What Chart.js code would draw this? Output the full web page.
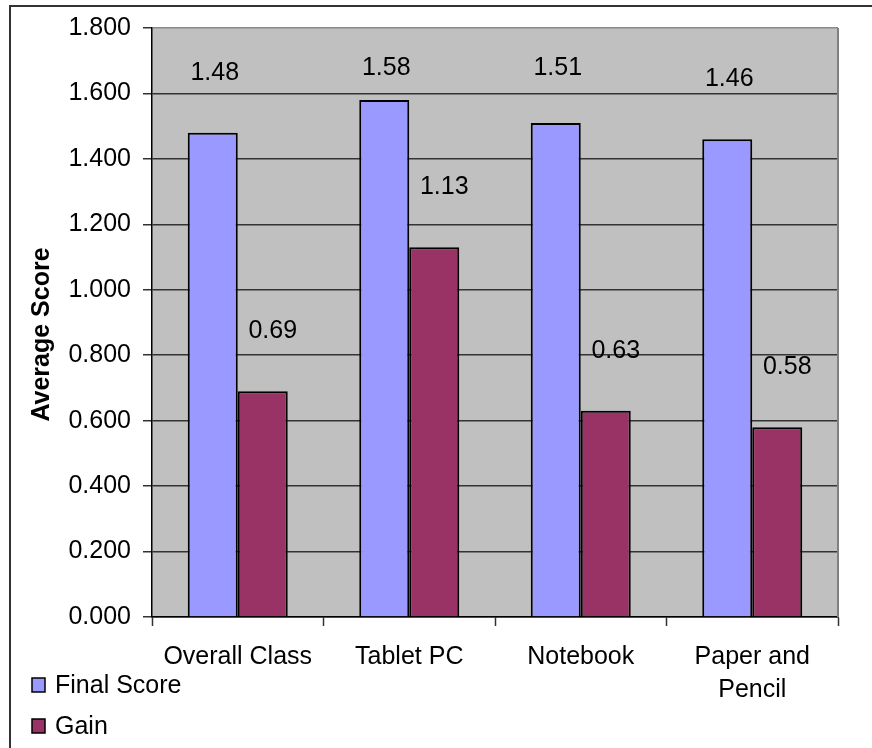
<!DOCTYPE html>
<html>
<head>
<meta charset="utf-8">
<title>Average Score</title>
<script src="https://cdn.jsdelivr.net/npm/chart.js@4/dist/chart.umd.min.js"></script>
<style>
  html, body { margin: 0; padding: 0; background: #ffffff; }
  canvas { display: block; }
</style>
</head>
<body>
<canvas id="chart" width="872" height="748"></canvas>
<script>
// Category names (multi-line where the label wraps)
const categories = ["Overall Class", "Tablet PC", "Notebook", ["Paper and", "Pencil"]];
// Series values
const finalScore = [1.48, 1.58, 1.51, 1.46];
const gain = [0.69, 1.13, 0.63, 0.58];
// Y axis range and step
const yMin = 0;
const yMax = 1.8;
const yStep = 0.2;

const FONT = "'Liberation Sans', Arial, sans-serif";
const FONT_SIZE = 25;

// White page frame plus grey plot background
const framePlugin = {
  id: 'frame',
  beforeDraw(chart) {
    const { ctx, chartArea: a } = chart;
    ctx.save();
    ctx.fillStyle = '#ffffff';
    ctx.fillRect(0, 0, chart.width, chart.height);
    ctx.strokeStyle = '#333333';
    ctx.lineWidth = 2;
    ctx.strokeRect(10, 6, chart.width + 20, chart.height + 20);
    ctx.fillStyle = '#c0c0c0';
    ctx.fillRect(a.left, a.top, a.right - a.left, a.bottom - a.top);
    ctx.restore();
  },
  afterDraw(chart) {
    const { ctx, chartArea: a } = chart;
    ctx.save();
    // right edge of plot area
    ctx.strokeStyle = '#808080';
    ctx.lineWidth = 2;
    ctx.beginPath();
    ctx.moveTo(a.right, a.top);
    ctx.lineTo(a.right, a.bottom);
    ctx.stroke();

    // y axis title
    ctx.fillStyle = '#000000';
    ctx.font = 'bold ' + FONT_SIZE + 'px ' + FONT;
    ctx.textAlign = 'center';
    ctx.textBaseline = 'middle';
    ctx.translate(42, (a.top + a.bottom) / 2 + 12);
    ctx.rotate(-Math.PI / 2);
    ctx.fillText('Average Score', 0, 0);
    ctx.restore();

    // legend, stacked vertically at bottom left
    ctx.save();
    ctx.font = FONT_SIZE + 'px ' + FONT;
    ctx.textBaseline = 'middle';
    ctx.textAlign = 'left';
    chart.data.datasets.forEach((ds, i) => {
      const cy = 685 + i * 41;
      ctx.fillStyle = ds.backgroundColor;
      ctx.fillRect(32, cy - 7, 13, 14);
      ctx.strokeStyle = '#000000';
      ctx.lineWidth = 1.5;
      ctx.strokeRect(32, cy - 7, 13, 14);
      ctx.fillStyle = '#000000';
      ctx.fillText(ds.label, 55, cy + 1);
    });
    ctx.restore();
  }
};

// Value labels above each bar
const valueLabelPlugin = {
  id: 'valueLabels',
  afterDatasetsDraw(chart) {
    const { ctx, chartArea: a } = chart;
    ctx.save();
    ctx.font = FONT_SIZE + 'px ' + FONT;
    ctx.fillStyle = '#000000';
    ctx.textAlign = 'center';
    ctx.textBaseline = 'middle';
    chart.data.datasets.forEach((ds, di) => {
      const meta = chart.getDatasetMeta(di);
      meta.data.forEach((bar, i) => {
        const dx = di === 1 ? 10 : 2;
        const y = Math.max(bar.y - 60, a.top + 40);
        ctx.fillText(ds.data[i].toFixed(2), bar.x + dx, y);
      });
    });
    ctx.restore();
  }
};

new Chart(document.getElementById('chart'), {
  type: 'bar',
  data: {
    labels: categories,
    datasets: [
      {
        label: 'Final Score',
        data: finalScore,
        backgroundColor: '#9999ff',
        borderColor: '#000000',
        borderWidth: 2,
        categoryPercentage: 0.583,
        barPercentage: 1.0
      },
      {
        label: 'Gain',
        data: gain,
        backgroundColor: '#993366',
        borderColor: '#000000',
        borderWidth: 2,
        categoryPercentage: 0.583,
        barPercentage: 1.0
      }
    ]
  },
  options: {
    responsive: false,
    devicePixelRatio: 1,
    animation: false,
    layout: { padding: { left: 0, top: 28, right: 34, bottom: 0 } },
    plugins: {
      legend: { display: false },
      tooltip: { enabled: false }
    },
    scales: {
      x: {
        afterFit(s) { s.height = 131; },
        grid: {
          offset: true,
          drawOnChartArea: false,
          tickLength: 9,
          tickColor: '#333333',
          tickWidth: 1.5
        },
        border: { color: '#000000', width: 1.5 },
        ticks: {
          color: '#000000',
          padding: 15,
          maxRotation: 0,
          autoSkip: false,
          font: { family: FONT, size: FONT_SIZE, lineHeight: 1.32 }
        }
      },
      y: {
        min: yMin,
        max: yMax,
        afterFit(s) { s.width = 152; },
        grid: {
          color: (c) => (c.tick && c.tick.value >= yMax ? '#8a8a8a' : '#333333'),
          lineWidth: 1.5,
          tickLength: 9,
          tickColor: '#333333',
          tickWidth: 1.5
        },
        border: { color: '#000000', width: 1.5 },
        ticks: {
          stepSize: yStep,
          color: '#000000',
          padding: 12,
          font: { family: FONT, size: FONT_SIZE },
          callback: (v) => Number(v).toFixed(3)
        }
      }
    }
  },
  plugins: [framePlugin, valueLabelPlugin]
});
</script>
</body>
</html>
